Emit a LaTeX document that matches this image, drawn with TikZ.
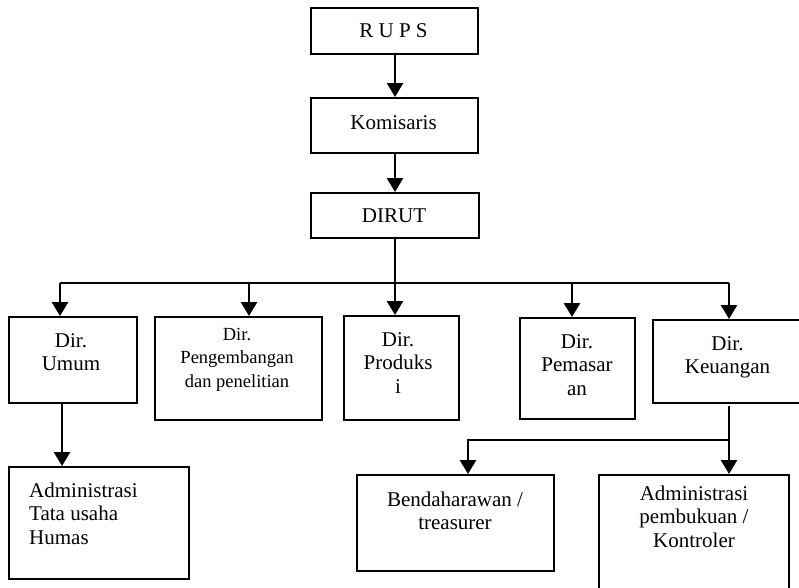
\documentclass[tikz,border=0pt]{standalone}
\usepackage{fontspec}
\setmainfont{Liberation Serif}
\usetikzlibrary{arrows.meta}
\newcommand\mylines[2][c]{\begin{tabular}[t]{@{}#1@{}}#2\end{tabular}}
\tikzset{
  box/.style={draw=black, line width=2pt, rectangle, inner sep=0pt, anchor=north west},
  txt/.style={inner sep=0pt, anchor=base, font=\fontsize{21}{23.5}\selectfont},
  smalltxt/.style={inner sep=0pt, anchor=base, font=\fontsize{18.5}{23.5}\selectfont},
  conn/.style={line width=2.6pt},
  arr/.style={conn, -{Triangle[width=16pt,length=14pt]}},
}
\begin{document}
\begin{tikzpicture}[x=1pt,y=-1pt]
\useasboundingbox (0,0) rectangle (799,587);
\clip (0,0) rectangle (799,587);
% boxes
\node[box, minimum width=167pt, minimum height=46pt] (rups) at (310,7) {};
\node[box, minimum width=167pt, minimum height=55pt] (kom) at (310,97) {};
\node[box, minimum width=168pt, minimum height=45pt] (dirut) at (310,192) {};
\node[box, minimum width=128pt, minimum height=86pt] (umum) at (8,316) {};
\node[box, minimum width=167pt, minimum height=103pt] (peng) at (154,316) {};
\node[box, minimum width=115pt, minimum height=104pt] (prod) at (343,315) {};
\node[box, minimum width=115pt, minimum height=101pt] (pemas) at (519,317) {};
\node[box, minimum width=158pt, minimum height=83pt] (keu) at (652,319) {};
\node[box, minimum width=180pt, minimum height=112pt] (admin) at (8,466) {};
\node[box, minimum width=197pt, minimum height=96pt] (bend) at (356,474) {};
\node[box, minimum width=190pt, minimum height=130pt] (pemb) at (598,474) {};
% texts
\node[txt] (trups) at (393.5,37) {R U P S};
\node[txt] (tkom) at (393.5,129) {Komisaris};
\node[txt] (tdirut) at (394,222) {DIRUT};
\node[txt] (tumum) at (71,347) {\mylines{Dir.\\Umum}};
\node[smalltxt] (tpeng) at (237,340) {\mylines{Dir.\\Pengembangan\\dan penelitian}};
\node[txt] (tprod) at (398,346) {\mylines{Dir.\\Produks\\i}};
\node[txt] (tpemas) at (577,348) {\mylines{Dir.\\Pemasar\\an}};
\node[txt] (tkeu) at (727.5,350) {\mylines{Dir.\\Keuangan}};
\node[txt, anchor=base west] (tadmin) at (29,497) {\mylines[l]{Administrasi\\Tata usaha\\Humas}};
\node[txt] (tbend) at (455,506) {\mylines{Bendaharawan /\\treasurer}};
\node[txt] (tpemb) at (694,500) {\mylines{Administrasi\\pembukuan /\\Kontroler}};
% connectors
\coordinate (d0) at (395,0);
\draw[arr] (rups.south -| d0) -- (kom.north -| d0);
\draw[arr] (kom.south -| d0) -- (dirut.north -| d0);
\coordinate (bL) at (60,283);
\coordinate (bR) at (729,283);
\coordinate (b2) at (249,283);
\coordinate (b4) at (572,283);
\draw[arr] (dirut.south -| d0) -- (prod.north -| d0);
\draw[conn] (bL) -- (bR);
\draw[arr] (bL) -- (bL |- umum.north);
\draw[arr] (b2) -- (b2 |- peng.north);
\draw[arr] (b4) -- (b4 |- pemas.north);
\draw[arr] (bR) -- (bR |- keu.north);
\coordinate (u0) at (62,0);
\draw[arr] (umum.south -| u0) -- (admin.north -| u0);
\coordinate (k0) at (729,406);
\coordinate (k1) at (729,440);
\coordinate (k2) at (468,440);
\draw[arr] (k0) -- (k0 |- pemb.north);
\draw[arr] (k1) -- (k2) -- (k2 |- bend.north);
\end{tikzpicture}
\end{document}
